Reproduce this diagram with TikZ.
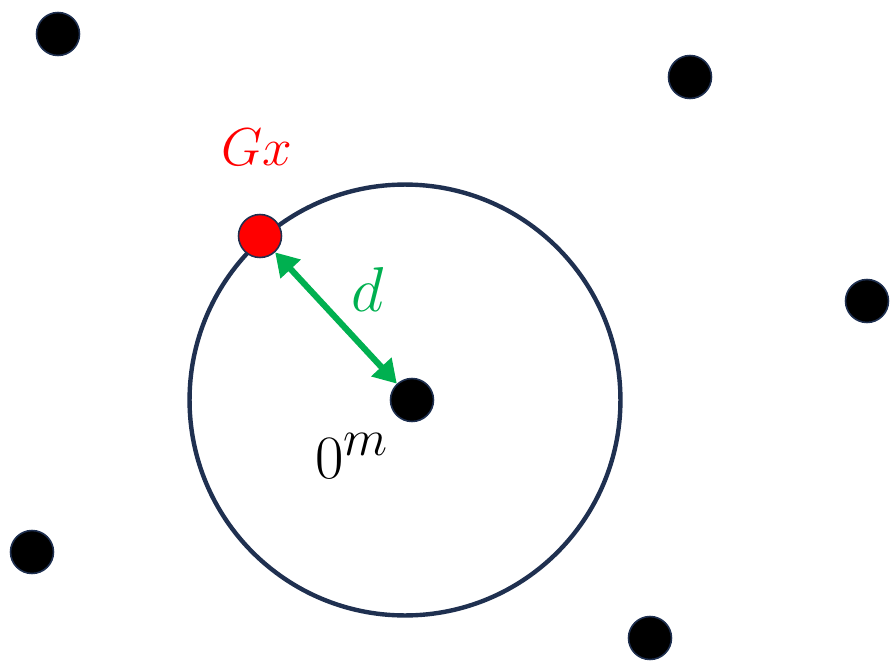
\documentclass[tikz,border=0pt]{standalone}
\usetikzlibrary{arrows.meta}
\definecolor{ringblue}{RGB}{31,48,80}
\definecolor{pointred}{RGB}{255,0,0}
\definecolor{distgreen}{RGB}{0,176,80}

\begin{document}
\begin{tikzpicture}[x=0.02cm,y=-0.02cm,
    dot/.style={circle,fill=black,draw=ringblue,line width=0.9pt,minimum size=0.86cm,inner sep=0pt},
    reddot/.style={dot,fill=pointred},
    ring/.style={circle,draw=ringblue,line width=2.5pt,minimum size=8.62cm,inner sep=0pt},
    dist/.style={distgreen,line width=3.5pt,{Triangle[length=13pt,width=15pt]}-{Triangle[length=13pt,width=15pt]}}]
        \useasboundingbox (0,0) rectangle (890,663);
        % ball round the origin
        \node[ring] (ball) at (405,400) {};
        \node[dot] (origin) at (412,400) {};
        \node[reddot] (gx) at (260,236) {};
        % other points
        \node[dot] (p1) at (58,34) {};
        \node[dot] (p2) at (690,77) {};
        \node[dot] (p3) at (867,301) {};
        \node[dot] (p4) at (32,552) {};
        \node[dot] (p5) at (650,638) {};
        % distance
        \draw[dist] (gx) -- (origin);
        \node[text=pointred,font=\Huge] (gxlabel) at (257,147) {\scalebox{1.22}{$Gx$}};
        \node[text=distgreen,font=\Huge] (dlabel) at (368,289) {\scalebox{1.45}{$d$}};
        \node[font=\Huge] (olabel) at (352,456) {\scalebox{1.41}{$0^m$}};
      \end{tikzpicture}
\end{document}
